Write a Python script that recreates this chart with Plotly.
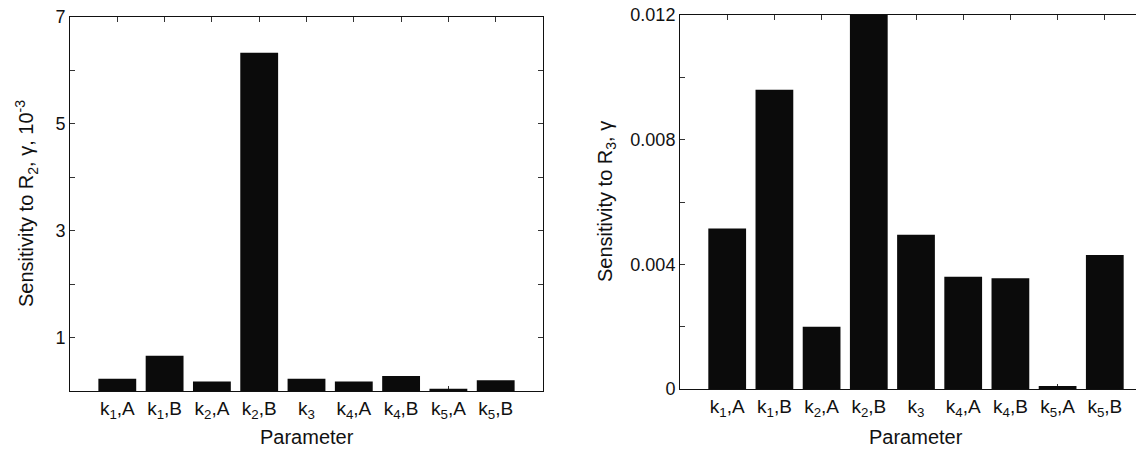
import plotly.graph_objects as go

categories = ["k<sub>1</sub>,A", "k<sub>1</sub>,B", "k<sub>2</sub>,A", "k<sub>2</sub>,B",
              "k<sub>3</sub>", "k<sub>4</sub>,A", "k<sub>4</sub>,B", "k<sub>5</sub>,A", "k<sub>5</sub>,B"]
sens_r2 = [0.23, 0.66, 0.18, 6.33, 0.23, 0.18, 0.28, 0.04, 0.20]          # x10^-3
sens_r3 = [0.00515, 0.0096, 0.0020, 0.0120, 0.00495, 0.0036, 0.00355, 0.0001, 0.0043]

left_ticks = [1, 2, 3, 4, 5, 6, 7]
left_ticktext = ["1", "", "3", "", "5", "", "7"]
right_ticks = [0, 0.002, 0.004, 0.006, 0.008, 0.010, 0.012]
right_ticktext = ["0", "", "0.004", "", "0.008", "", "0.012"]

W, H = 1144, 450
OFF = 8  # page body margin of the browser
FONT = "Liberation Sans, Arial, sans-serif"
BAR = "#0b0b0b"
idx = list(range(len(categories)))

fig = go.Figure()
fig.add_trace(go.Bar(x=idx, y=sens_r2, width=0.8, marker=dict(color=BAR, line=dict(width=0)),
                     xaxis="x", yaxis="y", showlegend=False))
fig.add_trace(go.Bar(x=idx, y=sens_r3, width=0.8, marker=dict(color=BAR, line=dict(width=0)),
                     xaxis="x2", yaxis="y2", showlegend=False))

def px_x(p):
    return min(1.0, (p - OFF) / W)

def px_y(p):
    return 1 - (p - OFF) / H

axis_common = dict(showline=True, linecolor="#111", linewidth=1, ticks="inside",
                   ticklen=5, tickcolor="#333", showgrid=False, zeroline=False, automargin=False,
                   ticklabeloverflow="allow",
                   tickfont=dict(family=FONT, size=18, color="#111"), layer="below traces")
xfont = dict(family=FONT, size=19, color="#111")

fig.update_layout(
    width=W, height=H, margin=dict(l=0, r=0, t=0, b=0, autoexpand=False),
    paper_bgcolor="white", plot_bgcolor="white", bargap=0.2,
    font=dict(family=FONT, color="#111"),
    xaxis=dict(domain=[px_x(70), px_x(543)], range=[-1, 9], tickvals=idx, ticktext=categories,
               mirror="ticks", anchor="y", **axis_common),
    yaxis=dict(domain=[px_y(391), px_y(17)], range=[0, 7], tickvals=left_ticks,
               ticktext=left_ticktext, mirror="ticks", anchor="x", **axis_common),
    xaxis2=dict(domain=[px_x(680), px_x(1152)], range=[-1, 9], tickvals=idx,
                ticktext=categories, mirror="ticks", anchor="y2", **axis_common),
    yaxis2=dict(domain=[px_y(389), px_y(15)], range=[0, 0.012], tickvals=right_ticks,
                ticktext=right_ticktext, mirror="ticks", anchor="x2", **axis_common),
)
fig.update_xaxes(tickfont=xfont)

annots = [
    dict(text="Parameter", x=px_x(307), y=px_y(437)),
    dict(text="Parameter", x=px_x(916), y=px_y(437)),
    dict(text="Sensitivity to R<sub>2</sub>, γ, 10<sup>-3</sup>", x=px_x(27), y=px_y(204), textangle=-90),
    dict(text="Sensitivity to R<sub>3</sub>, γ", x=px_x(606), y=px_y(202), textangle=-90),
]
for a in annots:
    fig.add_annotation(xref="paper", yref="paper", showarrow=False, xanchor="center", yanchor="middle",
                       font=dict(family=FONT, size=20, color="#111"), **a)

fig.write_html("out.html")
